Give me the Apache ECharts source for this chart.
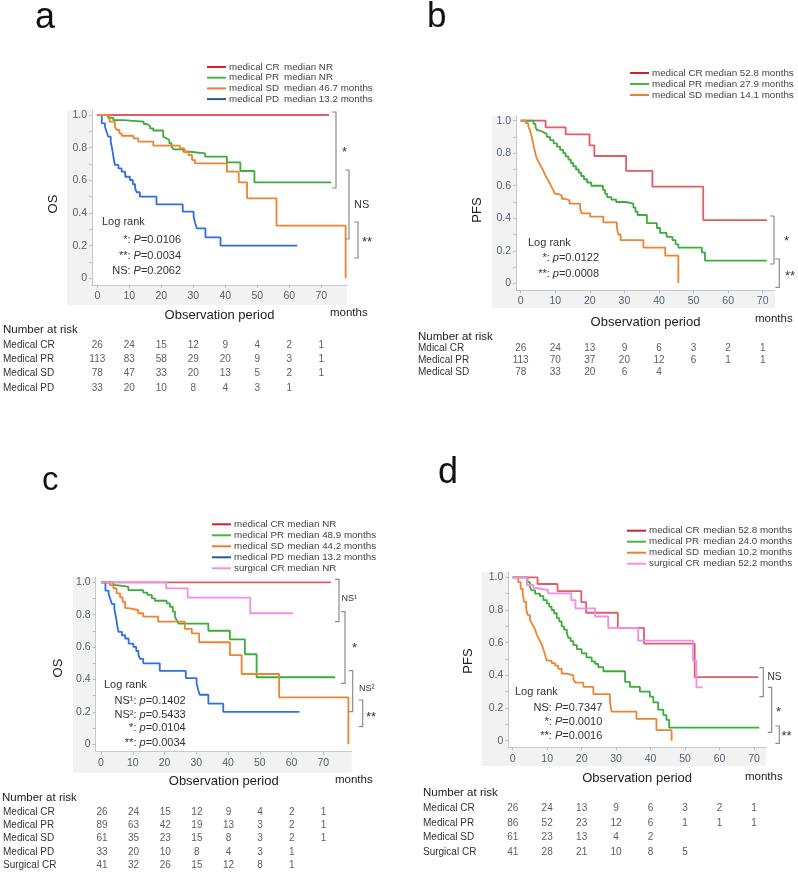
<!DOCTYPE html>
<html>
<head>
<meta charset="utf-8">
<script src="https://cdn.jsdelivr.net/npm/echarts@6/dist/echarts.min.js"></script>
<style>
html, body { margin: 0; padding: 0; background: #fff; }
#main { width: 798px; height: 872px; }
</style>
</head>
<body>
<div id="main"></div>
<script>
// ---- data (months, survival) ----
var xTicks = [0, 10, 20, 30, 40, 50, 60, 70];
var yTicks = [0, 0.2, 0.4, 0.6, 0.8, 1];
var yMinor = [0, 0.1, 0.2, 0.3, 0.4, 0.5, 0.6, 0.7, 0.8, 0.9, 1];

// OS, panels a / c
var osCR = [[0, 1], [72.4, 1]];
var osPR_a = [[0, 1], [3.4, 0.983], [5.0, 0.969], [8.1, 0.959], [14.5, 0.945], [15.4, 0.933], [16.5, 0.918], [17.5, 0.905], [20.6, 0.867], [21.2, 0.857], [21.7, 0.847], [22.5, 0.827], [23.2, 0.806], [23.8, 0.79], [26.9, 0.775], [29.0, 0.765], [33.7, 0.745], [40.5, 0.71], [44.7, 0.657], [49.1, 0.588], [73.1, 0.588]];
var osSD_a = [[0, 1], [3.8, 0.959], [5.5, 0.928], [6.1, 0.908], [6.9, 0.888], [7.6, 0.873], [11.3, 0.857], [12.8, 0.837], [17.5, 0.812], [25.8, 0.796], [27.2, 0.775], [28.5, 0.755], [29.6, 0.724], [30.5, 0.704], [40.5, 0.653], [44.2, 0.588], [46.8, 0.49], [56.0, 0.322], [77.6, 0]];
var osPD = [[0, 1], [1.4, 0.949], [2.4, 0.928], [2.9, 0.898], [3.4, 0.867], [4.2, 0.837], [4.5, 0.806], [4.8, 0.775], [5.1, 0.735], [5.5, 0.694], [6.6, 0.673], [7.6, 0.653], [8.7, 0.622], [10.2, 0.602], [11.1, 0.576], [11.8, 0.551], [12.3, 0.527], [13.3, 0.5], [18.5, 0.453], [26.7, 0.408], [30.1, 0.378], [30.6, 0.337], [31.1, 0.306], [33.8, 0.251], [38.5, 0.2], [62.5, 0.2]];
var osPR_c = [[0, 1], [3.9, 0.983], [4.7, 0.973], [8.6, 0.952], [13.3, 0.936], [14.6, 0.922], [16.0, 0.901], [17.0, 0.886], [20.7, 0.87], [21.7, 0.849], [22.6, 0.819], [23.3, 0.788], [23.8, 0.767], [24.4, 0.745], [33.8, 0.701], [40.6, 0.648], [45.3, 0.556], [49.0, 0.414], [73.7, 0.414]];
var osSD_c = [[0, 1], [2.8, 0.983], [3.9, 0.963], [4.9, 0.932], [6.0, 0.907], [6.8, 0.88], [7.6, 0.84], [8.6, 0.829], [11.7, 0.809], [13.3, 0.788], [18.0, 0.757], [26.4, 0.712], [28.6, 0.685], [30.9, 0.63], [40.6, 0.551], [44.3, 0.434], [56.1, 0.29], [77.9, 0]];
var osSurgCR = [[0, 1], [20.5, 0.963], [27.3, 0.905], [47.0, 0.809], [60.4, 0.809]];

// PFS, panels b / d
var pfsCR = [[0, 1], [7.2, 0.959], [13.0, 0.916], [19.9, 0.848], [21.3, 0.783], [30.5, 0.691], [38.1, 0.594], [52.8, 0.389], [71.2, 0.389]];
var pfsPR_b = [[0, 1], [3.7, 0.98], [4.3, 0.96], [4.8, 0.94], [5.5, 0.93], [6.5, 0.92], [7.5, 0.9], [8.5, 0.88], [9.5, 0.86], [10.5, 0.84], [11.4, 0.82], [12.3, 0.8], [13.0, 0.78], [13.8, 0.76], [14.5, 0.74], [15.2, 0.72], [16.0, 0.7], [16.8, 0.68], [17.5, 0.66], [18.3, 0.64], [19.2, 0.62], [20.4, 0.6], [23.8, 0.575], [24.4, 0.55], [25.0, 0.53], [26.2, 0.515], [27.6, 0.5], [30.4, 0.49], [32.6, 0.465], [33.2, 0.44], [33.8, 0.42], [36.5, 0.37], [39.4, 0.34], [40.3, 0.31], [42.2, 0.285], [43.9, 0.265], [44.8, 0.24], [45.6, 0.22], [52.4, 0.19], [53.3, 0.14], [71.2, 0.14]];
var pfsSD_b = [[0, 1], [1.5, 0.985], [2.2, 0.965], [2.7, 0.94], [3.2, 0.9], [3.7, 0.85], [4.1, 0.81], [4.6, 0.77], [5.1, 0.75], [5.6, 0.73], [6.1, 0.71], [6.6, 0.69], [7.0, 0.67], [7.5, 0.65], [8.0, 0.63], [8.5, 0.61], [9.0, 0.59], [9.5, 0.57], [9.9, 0.55], [10.9, 0.54], [11.9, 0.52], [12.8, 0.51], [14.1, 0.49], [17.2, 0.46], [17.6, 0.43], [20.1, 0.41], [23.9, 0.375], [27.8, 0.34], [28.3, 0.3], [28.9, 0.265], [35.5, 0.22], [41.8, 0.17], [45.6, 0]];
var pfsPR_d = [[0, 1], [4.3, 0.97], [5.0, 0.94], [5.5, 0.92], [6.5, 0.9], [7.9, 0.885], [8.9, 0.86], [9.9, 0.84], [10.6, 0.82], [11.3, 0.8], [12.0, 0.78], [12.8, 0.75], [13.5, 0.73], [14.2, 0.7], [14.9, 0.68], [15.7, 0.66], [16.1, 0.63], [16.8, 0.61], [17.6, 0.585], [18.6, 0.56], [20.0, 0.535], [21.4, 0.51], [22.9, 0.485], [23.9, 0.47], [24.8, 0.45], [26.3, 0.425], [32.6, 0.36], [34.0, 0.33], [36.9, 0.3], [39.8, 0.27], [40.8, 0.235], [42.2, 0.19], [43.7, 0.157], [44.6, 0.127], [45.4, 0.08], [71.5, 0.08]];
var pfsSD_d = [[0, 1], [1.6, 0.97], [2.3, 0.93], [2.9, 0.9], [3.3, 0.85], [3.9, 0.81], [4.3, 0.77], [5.0, 0.74], [5.5, 0.72], [6.0, 0.7], [6.5, 0.68], [7.0, 0.65], [7.4, 0.63], [7.9, 0.61], [8.4, 0.59], [8.9, 0.56], [9.4, 0.525], [9.9, 0.49], [11.3, 0.475], [12.3, 0.46], [13.2, 0.44], [14.2, 0.41], [15.7, 0.4], [17.6, 0.38], [18.1, 0.355], [20.5, 0.33], [23.4, 0.285], [28.2, 0.24], [28.7, 0.178], [35.9, 0.133], [41.7, 0.065], [46.1, 0]];
var pfsSurgCR = [[0, 1], [4.1, 0.953], [6.0, 0.933], [7.4, 0.922], [10.3, 0.902], [17.0, 0.86], [18.2, 0.81], [23.9, 0.76], [27.7, 0.69], [36.4, 0.612], [52.3, 0.49], [53.3, 0.326], [55.1, 0.326]];

// number at risk
var riskRowsA = ['Medical CR', 'Medical PR', 'Medical SD', 'Medical PD'];
var riskA = [[26, 24, 15, 12, 9, 4, 2, 1], [113, 83, 58, 29, 20, 9, 3, 1], [78, 47, 33, 20, 13, 5, 2, 1], [33, 20, 10, 8, 4, 3, 1]];
var riskRowsB = ['Mdical CR', 'Medical PR', 'Medical SD'];
var riskB = [[26, 24, 13, 9, 6, 3, 2, 1], [113, 70, 37, 20, 12, 6, 1, 1], [78, 33, 20, 6, 4]];
var riskRowsC = ['Medical CR', 'Medical PR', 'Medical SD', 'Medical PD', 'Surgical CR'];
var riskC = [[26, 24, 15, 12, 9, 4, 2, 1], [89, 63, 42, 19, 13, 3, 2, 1], [61, 35, 23, 15, 8, 3, 2, 1], [33, 20, 10, 8, 4, 3, 1], [41, 32, 26, 15, 12, 8, 1]];
var riskRowsD = ['Medical CR', 'Medical PR', 'Medical SD', 'Surgical CR'];
var riskD = [[26, 24, 13, 9, 6, 3, 2, 1], [86, 52, 23, 12, 6, 1, 1, 1], [61, 23, 13, 4, 2], [41, 28, 21, 10, 8, 5]];

// legend texts
var legendA = [['red', 'medical CR', 'median NR'], ['green', 'medical PR', 'median NR'], ['orange', 'medical SD', 'median 46.7 months'], ['blue', 'medical PD', 'median 13.2 months']];
var legendB = [['red', 'medical CR', 'median 52.8 months'], ['green', 'medical PR', 'median 27.9 months'], ['orange', 'medical SD', 'median 14.1 months']];
var legendC = [['red', 'medical CR', 'median NR'], ['green', 'medical PR', 'median 48.9 months'], ['orange', 'medical SD', 'median 44.2 months'], ['blue', 'medical PD', 'median 13.2 months'], ['pink', 'surgical CR', 'median NR']];
var legendD = [['red', 'medical CR', 'median 52.8 months'], ['green', 'medical PR', 'median 24.0 months'], ['orange', 'medical SD', 'median 10.2 months'], ['pink', 'surgical CR', 'median 52.2 months']];

// ---- styles ----
var FONT = '"Liberation Sans", Arial, sans-serif';
var lineCol = { red: '#e25c68', green: '#3cad3a', orange: '#ec8430', blue: '#2f6fe0', pink: '#f58ce6' };
var legCol = { red: '#d0202c', green: '#4cb446', orange: '#f07c35', blue: '#235e86', pink: '#f590ea' };

var chart = echarts.init(document.getElementById('main'));

function txt(x, y, s, o) {
    o = o || {};
    return {
        type: 'text', x: x, y: y, rotation: o.rot || 0, z: 10, silent: true,
        style: {
            text: s, fontSize: o.size || 11, fontFamily: o.font || FONT, fill: o.color || '#333',
            align: o.align || 'left', verticalAlign: 'middle', rich: o.rich
        }
    };
}
function bracket(x, y1, y2) {
    return {
        type: 'polyline', z: 10, silent: true,
        shape: { points: [[x - 4, y1], [x, y1], [x, y2], [x - 4, y2]] },
        style: { stroke: '#8c8c8c', lineWidth: 1.2, fill: null }
    };
}
function pval(x, y, pre, letter, num) {
    return txt(x, y, '{n|' + pre + '}{i|' + letter + '}{n|' + num + '}', {
        align: 'right',
        rich: {
            n: { fontSize: 11, fontFamily: FONT, fill: '#333' },
            i: { fontSize: 11, fontFamily: FONT, fill: '#333', fontStyle: 'italic' }
        }
    });
}

var panels = [
    { cal: { x0: 97.3, x70: 321.3, y1: 115, y0: 278.3 }, box: { l: 92, r: 347, t: 110, b: 285 }, grayL: 67, grayB: 305, nameGap: 30,
      curves: [[osCR, 'red'], [osPR_a, 'green'], [osPD, 'blue'], [osSD_a, 'orange']],
      riskNames: riskRowsA, risk: riskA, riskFirst: 345, riskStep: 14.3, riskX: 3,
      legend: legendA, legX: 207, legY: 67, legStep: 10.7, medX: 284,
      letter: ['a', 35, 18, 36], yName: ['OS', 53, 204], months: [330, 313], nar: [3, 330] },
    { cal: { x0: 520.7, x70: 762.7, y1: 120.7, y0: 283.3 }, box: { l: 516, r: 775, t: 116, b: 290 }, grayL: 492, grayB: 308, nameGap: 32,
      curves: [[pfsCR, 'red'], [pfsPR_b, 'green'], [pfsSD_b, 'orange']],
      riskNames: riskRowsB, risk: riskB, riskFirst: 348, riskStep: 12, riskX: 418,
      legend: legendB, legX: 630, legY: 73, legStep: 11, medX: 705,
      letter: ['b', 427, 17, 35], yName: ['PFS', 477.7, 210], months: [755, 319], nar: [418, 337] },
    { cal: { x0: 101, x70: 323.3, y1: 582.3, y0: 744.3 }, box: { l: 95.7, r: 351.7, t: 577, b: 751.7 }, grayL: 73, grayB: 772.7, nameGap: 30,
      curves: [[osCR, 'red'], [osPR_c, 'green'], [osPD, 'blue'], [osSD_c, 'orange'], [osSurgCR, 'pink']],
      riskNames: riskRowsC, risk: riskC, riskFirst: 812, riskStep: 13.4, riskX: 2,
      legend: legendC, legX: 212, legY: 524.3, legStep: 11, medX: 287.3,
      letter: ['c', 42, 481, 33], yName: ['OS', 58.3, 668], months: [335, 780], nar: [2, 798] },
    { cal: { x0: 512.7, x70: 754, y1: 577.3, y0: 740.7 }, box: { l: 508.3, r: 766, t: 572, b: 747.3 }, grayL: 481.7, grayB: 766, nameGap: 31,
      curves: [[pfsCR, 'red'], [pfsPR_d, 'green'], [pfsSD_d, 'orange'], [pfsSurgCR, 'pink']],
      riskNames: riskRowsD, risk: riskD, riskFirst: 808.3, riskStep: 14.5, riskX: 423,
      legend: legendD, legX: 627, legY: 530.7, legStep: 11, medX: 703.3,
      letter: ['d', 438, 473, 36], yName: ['PFS', 468, 661], months: [745, 777.3], nar: [423, 793.3] }
];

var grids = [], xAxes = [], yAxes = [], series = [], graphics = [];

panels.forEach(function (p, i) {
    var c = p.cal, b = p.box;
    var pxm = (c.x70 - c.x0) / 70, k = c.y0 - c.y1;
    var xmin = (b.l - c.x0) / pxm, xmax = (b.r - c.x0) / pxm;
    var ymax = (c.y0 - b.t) / k, ymin = (c.y0 - b.b) / k;

    // gray panel behind plot
    graphics.push({ type: 'rect', z: -5, silent: true, shape: { x: p.grayL, y: b.t, width: b.r - p.grayL, height: p.grayB - b.t }, style: { fill: '#f2f2f2' } });

    grids.push({ left: b.l, top: b.t, width: b.r - b.l, height: b.b - b.t, show: true, backgroundColor: '#fff', borderWidth: 0 });
    xAxes.push({
        gridIndex: i, type: 'value', min: xmin, max: xmax,
        axisLine: { onZero: false, lineStyle: { color: '#c8c8c8' } },
        axisTick: { customValues: xTicks, length: 3, lineStyle: { color: '#bbb' } },
        axisLabel: { customValues: xTicks, color: '#56616e', fontSize: 10.5, fontFamily: FONT, margin: 6 },
        splitLine: { show: false },
        name: 'Observation period', nameLocation: 'middle', nameGap: p.nameGap,
        nameTextStyle: { fontSize: 13, color: '#222', fontFamily: FONT, verticalAlign: 'middle' }
    });
    yAxes.push({
        gridIndex: i, type: 'value', min: ymin, max: ymax,
        axisLine: { show: true, onZero: false, lineStyle: { color: '#c8c8c8' } },
        axisTick: { customValues: yMinor, length: 3, lineStyle: { color: '#bbb' } },
        axisLabel: {
            customValues: yTicks, color: '#56616e', fontSize: 10.5, fontFamily: FONT, margin: 5,
            formatter: function (v) { return v === 0 ? '0' : v.toFixed(1); }
        },
        splitLine: { show: false }
    });
    p.curves.forEach(function (cv) {
        series.push({
            type: 'line', xAxisIndex: i, yAxisIndex: i, step: 'end', symbol: 'none', silent: true,
            data: cv[0], lineStyle: { color: lineCol[cv[1]], width: 1.8 }
        });
    });

    // legend
    p.legend.forEach(function (lg, j) {
        var y = p.legY + j * p.legStep;
        graphics.push({ type: 'line', z: 10, silent: true, shape: { x1: p.legX, y1: y, x2: p.legX + 19, y2: y }, style: { stroke: legCol[lg[0]], lineWidth: 2 } });
        graphics.push(txt(p.legX + 22, y, lg[1], { size: 9.8, color: '#444' }));
        graphics.push(txt(p.medX, y, lg[2], { size: 9.8, color: '#444' }));
    });

    graphics.push(txt(p.letter[1], p.letter[2], p.letter[0], { size: p.letter[3], color: '#111' }));
    graphics.push(txt(p.yName[1], p.yName[2], p.yName[0], { size: 13, color: '#222', rot: Math.PI / 2, align: 'center' }));
    graphics.push(txt(p.months[0], p.months[1], 'months', { size: 11.5, color: '#222' }));
    graphics.push(txt(p.nar[0], p.nar[1], 'Number at risk', { size: 11.5, color: '#222' }));
});

// number-at-risk tables: one grid per panel sharing the month scale
panels.forEach(function (p, i) {
    var c = p.cal, b = p.box;
    var pxm = (c.x70 - c.x0) / 70;
    var n = p.riskNames.length;
    var gi = 4 + i;
    grids.push({ left: b.l, top: p.riskFirst - p.riskStep / 2, width: b.r - b.l, height: n * p.riskStep });
    xAxes.push({ gridIndex: gi, type: 'value', min: (b.l - c.x0) / pxm, max: (b.r - c.x0) / pxm, show: false });
    yAxes.push({
        gridIndex: gi, type: 'category', data: p.riskNames, inverse: true,
        axisLine: { show: false }, axisTick: { show: false }, splitLine: { show: false },
        axisLabel: { interval: 0, align: 'left', margin: b.l - p.riskX, fontSize: 10, color: '#333', fontFamily: FONT }
    });
    var pts = [];
    p.risk.forEach(function (row, r) {
        row.forEach(function (v, j) { pts.push([xTicks[j], r, v]); });
    });
    series.push({
        type: 'scatter', xAxisIndex: gi, yAxisIndex: gi, symbol: 'rect', symbolSize: 1, silent: true,
        itemStyle: { color: 'rgba(0,0,0,0)' },
        label: { show: true, position: 'inside', fontSize: 10, color: '#333', fontFamily: FONT, formatter: function (q) { return q.value[2]; } },
        data: pts
    });
});

// log-rank annotations and brackets
graphics.push(
    txt(102, 222, 'Log rank'), pval(181, 240, '*: ', 'P', '=0.0106'), pval(181, 256, '**: ', 'P', '=0.0034'), pval(181, 271, 'NS: ', 'P', '=0.2062'),
    bracket(336, 112, 188), txt(342, 152, '*', { size: 13 }),
    bracket(349, 170, 239), txt(354, 205, 'NS', { size: 11 }),
    bracket(358, 222, 258), txt(362, 242, '**', { size: 13 }),

    txt(528, 243, 'Log rank'), pval(599, 258, '*: ', 'p', '=0.0122'), pval(599, 274, '**: ', 'p', '=0.0008'),
    bracket(774, 216, 264), txt(784, 241, '*', { size: 13 }),
    bracket(779.3, 259, 287.3), txt(785, 276, '**', { size: 13 }),

    txt(104, 685, 'Log rank'), pval(185.7, 700.7, 'NS\u00b9: ', 'p', '=0.1402'), pval(185.7, 715, 'NS\u00b2: ', 'p', '=0.5433'),
    pval(185.7, 728.3, '*: ', 'p', '=0.0104'), pval(185.7, 742.7, '**: ', 'p', '=0.0034'),
    bracket(339, 579.3, 621.7), txt(341.5, 598.3, 'NS\u00b9', { size: 9 }),
    bracket(345, 611.7, 683.3), txt(352, 648.5, '*', { size: 13 }),
    bracket(352.7, 670.7, 711.7), txt(359, 688.3, 'NS\u00b2', { size: 9 }),
    bracket(362.7, 700, 726.7), txt(366, 717, '**', { size: 13 }),

    txt(515, 692.3, 'Log rank'), pval(602.3, 707.5, 'NS: ', 'P', '=0.7347'), pval(602.3, 721.7, '*: ', 'P', '=0.0010'), pval(602.3, 736, '**: ', 'P', '=0.0016'),
    bracket(763.3, 667.7, 696.7), txt(767.5, 677.3, 'NS', { size: 10 }),
    bracket(771.7, 687.3, 732.3), txt(776, 712.5, '*', { size: 13 }),
    bracket(779.3, 726, 743.3), txt(781.5, 736, '**', { size: 13 })
);

chart.setOption({
    animation: false,
    grid: grids,
    xAxis: xAxes,
    yAxis: yAxes,
    series: series,
    graphic: { elements: graphics }
});
</script>
</body>
</html>
